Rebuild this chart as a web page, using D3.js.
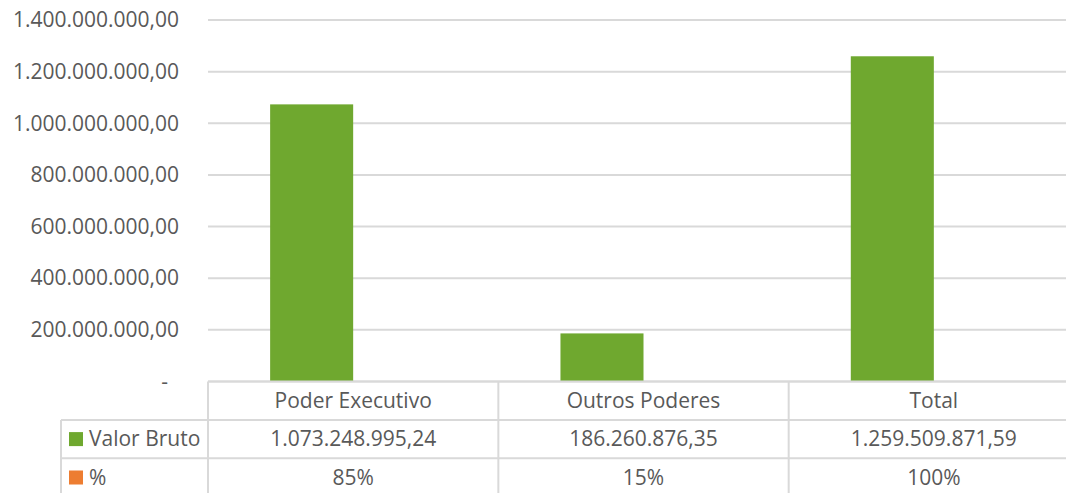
<!DOCTYPE html>
<html>
<head>
<meta charset="utf-8">
<script src="https://cdn.jsdelivr.net/npm/d3@7"></script>
<style>
  body { margin: 0; background: #fff; }
  text { font-family: "Open Sans", sans-serif; fill: #595959; }
</style>
</head>
<body>
<div id="chart"></div>
<script>
// chart data
var categories = ["Poder Executivo", "Outros Poderes", "Total"];
var series = ["Valor Bruto", "%"];
var valorBruto = [1073248995.24, 186260876.35, 1259509871.59];
var percent = [0.85, 0.15, 1];
var yTicks = [0, 200000000, 400000000, 600000000, 800000000, 1000000000, 1200000000, 1400000000];
var seriesColors = ["#6FA82F", "#ED7D31"];

var w = 1066;
var h = 493;
var plotLeft = 208, plotRight = 1079, plotTop = 20, plotBottom = 381.5;
var rowH = 38.4;
var fontSize = 21;

var br = d3.formatLocale({ decimal: ",", thousands: ".", grouping: [3], currency: ["R$", ""] });
var fmt = br.format(",.2f");
var pct = d3.format(".0%");

var xScale = d3.scaleBand()
    .domain(categories)
    .range([plotLeft, plotRight]);

var bw = xScale.bandwidth();
var x1 = d3.scaleBand()
    .domain(series)
    .range([bw * 0.214, bw * 0.786]);

var yScale = d3.scaleLinear()
    .domain([0, 1400000000])
    .range([plotBottom, plotTop]);

var svg = d3.select("#chart")
    .append("svg")
    .attr("width", w)
    .attr("height", h);

// gridlines
svg.append("g")
    .selectAll("line")
    .data(yTicks)
    .enter()
    .append("line")
    .attr("x1", plotLeft)
    .attr("x2", plotRight)
    .attr("y1", function(d) { return yScale(d); })
    .attr("y2", function(d) { return yScale(d); })
    .attr("stroke", "#D9D9D9")
    .attr("stroke-width", 2);

// y axis labels
var yAxis = d3.axisLeft(yScale)
    .tickValues(yTicks)
    .tickSize(0)
    .tickPadding(29)
    .tickFormat(function(d) { return d === 0 ? "-" : fmt(d); });

var gy = svg.append("g")
    .attr("transform", "translate(" + plotLeft + ",0)")
    .call(yAxis);
gy.select(".domain").remove();
gy.selectAll("text")
    .attr("font-size", fontSize)
    .attr("font-family", "Open Sans")
    .attr("fill", "#595959")
    .attr("dx", function(d) { return d === 0 ? -11 : 0; });

// bars
var rows = [valorBruto, percent];
series.forEach(function(s, si) {
    svg.append("g")
        .selectAll("rect")
        .data(rows[si])
        .enter()
        .append("rect")
        .attr("x", function(d, i) { return xScale(categories[i]) + x1(s); })
        .attr("y", function(d) { return yScale(d); })
        .attr("width", x1.bandwidth())
        .attr("height", function(d) { return plotBottom - yScale(d); })
        .attr("fill", seriesColors[si]);
});

// data table
var table = svg.append("g")
    .attr("stroke", "#D9D9D9")
    .attr("stroke-width", 2);

var tableLeft = 61;
var rowY = [plotBottom, plotBottom + rowH, plotBottom + 2 * rowH, plotBottom + 3 * rowH];

rowY.forEach(function(y, i) {
    table.append("line")
        .attr("x1", i === 0 ? plotLeft : tableLeft)
        .attr("x2", plotRight)
        .attr("y1", y)
        .attr("y2", y);
});

table.append("line")
    .attr("x1", tableLeft).attr("x2", tableLeft)
    .attr("y1", rowY[1]).attr("y2", rowY[3]);

categories.forEach(function(c) {
    table.append("line")
        .attr("x1", xScale(c)).attr("x2", xScale(c))
        .attr("y1", plotBottom).attr("y2", rowY[3]);
});

// header labels
svg.append("g")
    .selectAll("text")
    .data(categories)
    .enter()
    .append("text")
    .attr("x", function(d) { return xScale(d) + bw / 2; })
    .attr("y", plotBottom + rowH / 2)
    .attr("dy", "0.35em")
    .attr("text-anchor", "middle")
    .attr("font-size", fontSize)
    .text(function(d) { return d; });

// value rows
var rowFmt = [fmt, pct];
series.forEach(function(s, si) {
    var cy = rowY[si + 1] + rowH / 2;

    svg.append("rect")
        .attr("x", 69)
        .attr("y", cy - 7)
        .attr("width", 14)
        .attr("height", 14)
        .attr("fill", seriesColors[si]);

    svg.append("text")
        .attr("x", 89)
        .attr("y", cy)
        .attr("dy", "0.35em")
        .attr("font-size", fontSize)
        .text(s);

    svg.append("g")
        .selectAll("text")
        .data(rows[si])
        .enter()
        .append("text")
        .attr("x", function(d, i) { return xScale(categories[i]) + bw / 2; })
        .attr("y", cy)
        .attr("dy", "0.35em")
        .attr("text-anchor", "middle")
        .attr("font-size", fontSize)
        .text(function(d) { return rowFmt[si](d); });
});
</script>
</body>
</html>
